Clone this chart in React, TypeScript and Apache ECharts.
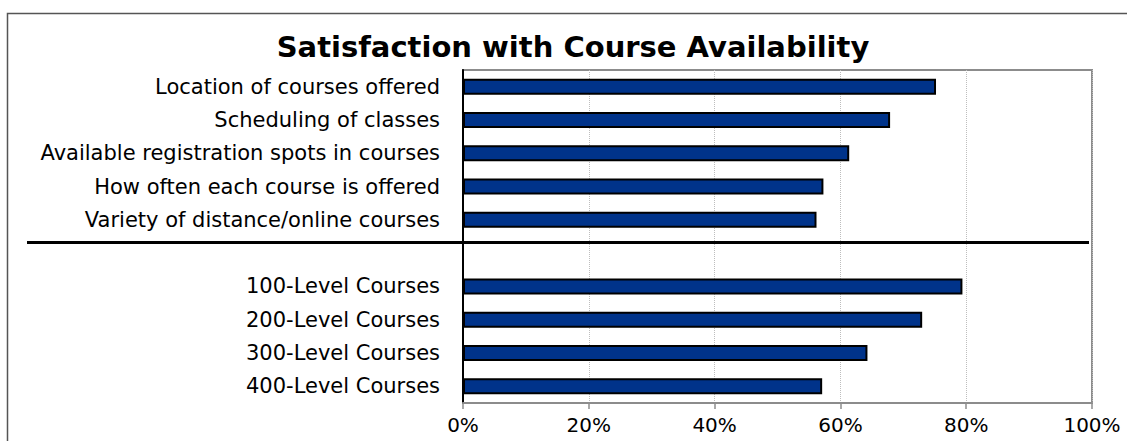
import React, { useEffect, useRef } from "react";
import * as echarts from "echarts";

const topicCategories = [
  "Location of courses offered",
  "Scheduling of classes",
  "Available registration spots in courses",
  "How often each course is offered",
  "Variety of distance/online courses",
];
const topicValues = [75.2, 67.9, 61.4, 57.3, 56.2];

const levelCategories = [
  "100-Level Courses",
  "200-Level Courses",
  "300-Level Courses",
  "400-Level Courses",
];
const levelValues = [79.4, 73.0, 64.3, 57.1];

const xTicks = [0, 20, 40, 60, 80, 100];

export default function App() {
  const ref = useRef<HTMLDivElement>(null);

  useEffect(() => {
    document.body.style.margin = "0";
    if (!ref.current) return;
    const chart = echarts.init(ref.current, undefined, { renderer: "svg" });

    const categories = [...topicCategories, "", ...levelCategories];
    const values: (number | null)[] = [...topicValues, null, ...levelValues];

    const font = "DejaVu Sans, Verdana, sans-serif";

    chart.setOption({
      animation: false,
      backgroundColor: "#ffffff",
      title: {
        text: "Satisfaction with Course Availability",
        left: 568,
        top: 27,
        textAlign: "center",
        textStyle: {
          fontFamily: font,
          fontWeight: "bold",
          fontSize: 29,
          color: "#000000",
        },
      },
      grid: {
        left: 463,
        right: 35,
        top: 70,
        bottom: 38,
        show: true,
        borderColor: "#8c8c8c",
        borderWidth: 2,
        backgroundColor: "transparent",
        containLabel: false,
      },
      xAxis: {
        type: "value",
        min: xTicks[0],
        max: xTicks[xTicks.length - 1],
        interval: 20,
        axisLine: { show: true, lineStyle: { color: "#8c8c8c", width: 2 } },
        axisTick: {
          show: true,
          inside: false,
          length: 6,
          lineStyle: { color: "#8c8c8c", width: 1.5 },
        },
        axisLabel: {
          formatter: "{value}%",
          fontFamily: font,
          fontSize: 20,
          color: "#000000",
          margin: 12,
        },
        splitLine: {
          show: true,
          lineStyle: { color: "#bdbdbd", type: "dotted", width: 1 },
        },
      },
      yAxis: {
        type: "category",
        inverse: true,
        data: categories,
        axisLine: { show: true, lineStyle: { color: "#000000", width: 2 } },
        axisTick: { show: false },
        axisLabel: {
          fontFamily: font,
          fontSize: 21,
          color: "#000000",
          margin: 23,
        },
        splitLine: { show: false },
      },
      series: [
        {
          type: "bar",
          data: values,
          barWidth: 16,
          itemStyle: {
            color: "#00338a",
            borderColor: "#000000",
            borderWidth: 2,
          },
        },
      ],
      graphic: [
        {
          type: "rect",
          shape: { x: 7.5, y: 13.5, width: 1300, height: 600 },
          style: { fill: "none", stroke: "#555555", lineWidth: 1.5 },
          silent: true,
          z: 0,
        },
        {
          type: "line",
          shape: { x1: 27, y1: 242.5, x2: 1089, y2: 242.5 },
          style: { stroke: "#000000", lineWidth: 3 },
          silent: true,
          z: 10,
        },
      ],
    });

    return () => chart.dispose();
  }, []);

  return (
    <div
      ref={ref}
      style={{ position: "absolute", left: 0, top: 0, width: 1127, height: 441 }}
    />
  );
}
